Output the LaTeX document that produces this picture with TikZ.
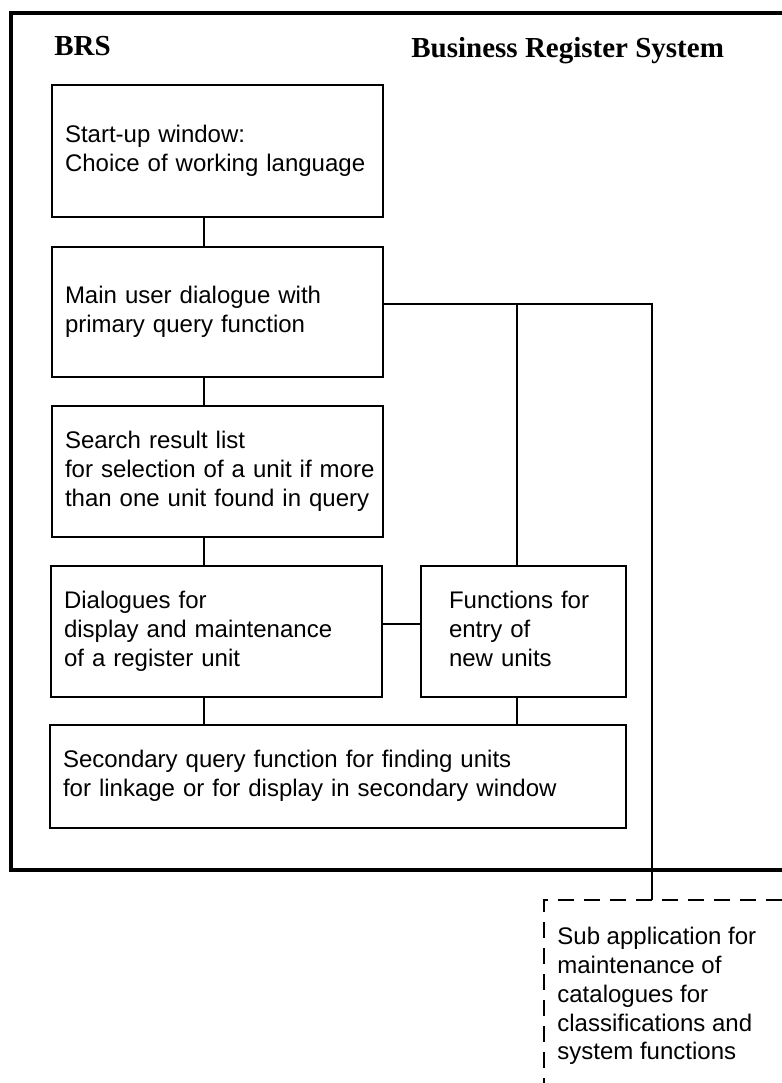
\documentclass[tikz,border=0pt]{standalone}
\usepackage{fontspec}
\setmainfont{Liberation Sans}
\newfontfamily\titlefont{Liberation Serif}
\newcommand\boxlines[1]{\begin{tabular}{@{}l@{}}#1\end{tabular}}
\begin{document}
\begin{tikzpicture}[x=0.5pt,y=-0.5pt,
  box/.style={draw, line width=1.2pt, align=left, inner xsep=6.5pt, inner ysep=0pt,
    font=\fontsize{12}{14.4}\selectfont},
  conn/.style={line width=1pt},
  frameline/.style={line width=2.2pt, line join=miter},
  sublines/.style={line width=0.6pt, dash pattern=on 8pt off 5pt},
  titletext/.style={font=\titlefont\bfseries\fontsize{14.5}{17}\selectfont, inner sep=0pt, anchor=base west},
  subtext/.style={font=\fontsize{12}{14.4}\selectfont, align=left, inner sep=0pt, anchor=west}]
\useasboundingbox (0,0) rectangle (782,1083);
\fill[white] (0,0) rectangle (782,1083);
\draw[frameline] (782,13) -- (11,13) -- (11,870) -- (782,870);

\node[titletext] (brs) at (54,55) {BRS};
\node[titletext] (title) at (411,57) {Business Register System};

\node[box, text width=152.5pt, minimum height=66pt] (start) at (217.5,151) {\boxlines{Start-up window:\\Choice of working language}};
\node[box, text width=152.5pt, minimum height=65pt] (main) at (217.5,312) {\boxlines{Main user dialogue with\\primary query function}};
\node[box, text width=152.5pt, minimum height=65.5pt] (search) at (217.5,471.5) {\boxlines{Search result list\\for selection of a unit if more\\than one unit found in query}};
\node[box, text width=152.5pt, minimum height=65.5pt] (dial) at (216.5,631.5) {\boxlines{Dialogues for\\display and maintenance\\of a register unit}};
\node[box, inner xsep=14pt, text width=74.5pt, minimum height=65.5pt] (func) at (523.5,631.5) {\boxlines{Functions for\\entry of\\new units}};
\node[box, text width=275pt, minimum height=51.5pt] (sec) at (338,776.5) {\boxlines{Secondary query function for finding units\\for linkage or for display in secondary window}};

\node[subtext] (sub) at (557,996) {Sub application for\\maintenance of\\catalogues for\\classifications and\\system functions};

\coordinate (j1) at (517,304);
\coordinate (j2) at (652,304);
\coordinate (h) at (0,624);
\coordinate (v) at (204,0);
\coordinate (subc) at (544,900);
\coordinate (subt) at (652,900);
\coordinate (subr) at (782,900);
\coordinate (subb) at (544,1083);

\draw[conn] (start.south -| v) -- (main.north -| v);
\draw[conn] (main.south -| v) -- (search.north -| v);
\draw[conn] (search.south -| v) -- (dial.north -| v);
\draw[conn] (dial.south -| v) -- (sec.north -| v);
\draw[conn] (func.south -| j1) -- (sec.north -| j1);
\draw[conn] (dial.east |- h) -- (func.west |- h);
\draw[conn] (main.east |- j1) -- (j2) -- (subt);
\draw[conn] (j1) -- (func.north -| j1);
\draw[sublines] (subr) -- (subc) -- (subb);
\end{tikzpicture}
\end{document}
